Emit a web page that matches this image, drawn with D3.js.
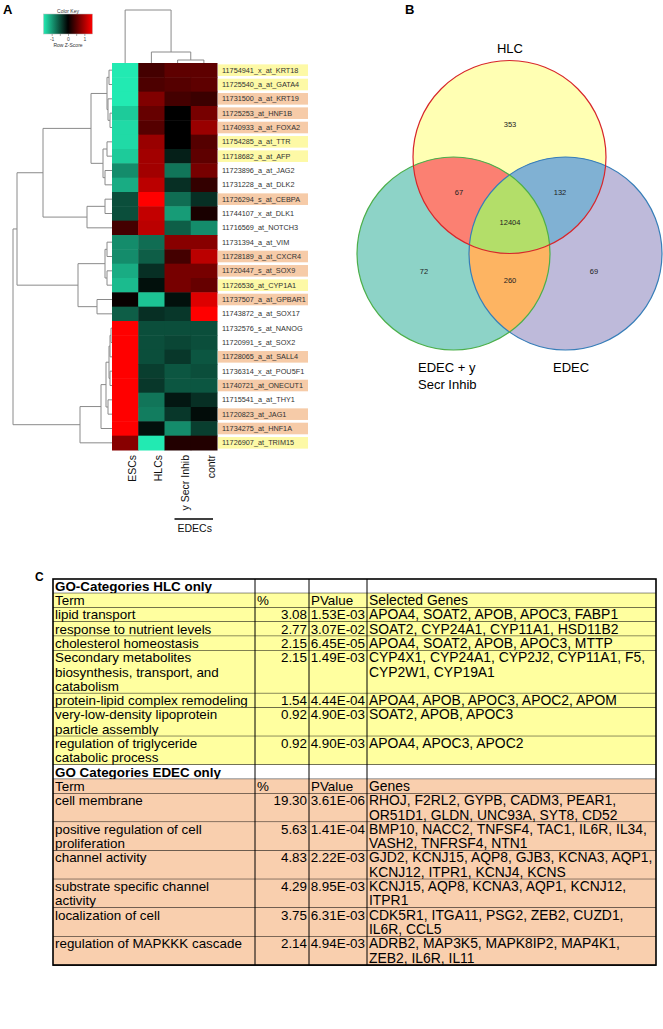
<!DOCTYPE html>
<html><head><meta charset="utf-8">
<script src="https://cdn.jsdelivr.net/npm/d3@7/dist/d3.min.js"></script>
<style>body{margin:0;background:#fff}svg{display:block;font-family:"Liberation Sans",Arial,sans-serif}</style>
</head><body>
<svg id="c" width="663" height="1029"></svg>
<script>
// ---------------- DATA ----------------
const columns = ["ESCs", "HLCs", "y Secr Inhib", "contr"];
const probes = ["11754941_x_at_KRT18","11725540_a_at_GATA4","11731500_a_at_KRT19","11725253_at_HNF1B","11740933_a_at_FOXA2","11754285_a_at_TTR","11718682_a_at_AFP","11723896_a_at_JAG2","11731228_a_at_DLK2","11726294_s_at_CEBPA","11744107_x_at_DLK1","11716569_at_NOTCH3","11731394_a_at_VIM","11728189_a_at_CXCR4","11720447_s_at_SOX9","11726536_at_CYP1A1","11737507_a_at_GPBAR1","11743872_a_at_SOX17","11732576_s_at_NANOG","11720991_s_at_SOX2","11728065_a_at_SALL4","11736314_x_at_POU5F1","11740721_at_ONECUT1","11715541_a_at_THY1","11720823_at_JAG1","11734275_at_HNF1A","11726907_at_TRIM15"];
const probeHighlight = ["y","y","o","o","o","y","y","","","o","","","","o","o","y","o","","","","o","","o","","o","o","y"];
// row z-scores: ESCs, HLCs, y Secr Inhib, contr
const zScores = [
 [-1.5, 0.40, 0.55, 0.55],[-1.5, 0.45, 0.50, 0.55],[-1.5, 0.75, 0.40, 0.35],[-1.3, 0.60, 0.00, 0.70],
 [-1.4, 0.50, 0.00, 0.90],[-1.4, 0.90, 0.00, 0.50],[-1.3, 0.95,-0.20, 0.55],[-0.9, 0.95,-0.75, 0.70],
 [-1.1, 1.10,-0.30, 0.30],[-0.5, 1.50,-0.70,-0.30],[-0.5, 1.15,-1.00, 0.15],[ 0.4, 1.10,-0.60,-0.90],
 [-0.9,-0.70, 0.80, 0.80],[-0.9,-0.60, 0.40, 1.10],[-1.1,-0.30, 0.70, 0.70],[-1.2,-0.10, 0.70, 0.60],
 [ 0.05,-1.25,-0.10, 1.30],[-0.6,-0.30,-0.35, 1.50],[ 1.5,-0.50,-0.50,-0.50],[ 1.5,-0.50,-0.45,-0.50],
 [ 1.5,-0.50,-0.35,-0.55],[ 1.5,-0.40,-0.55,-0.50],[ 1.5,-0.35,-0.55,-0.55],[ 1.5,-0.75,-0.15,-0.30],
 [ 1.5,-0.80,-0.35,-0.08],[ 1.5,-0.10,-0.90,-0.40],[ 0.8,-1.50, 0.20, 0.20]];
// dendrograms: node heights (merge distance)
const rowTree = {h:99,c:[
  {h:95,c:[
    {h:69,c:[
      {h:21,c:[
        {h:5,c:[{h:3,c:["KRT18","GATA4"]},{h:4,c:["KRT19",{h:2,c:["HNF1B","FOXA2"]}]}]},
        {h:9,c:[{h:5,c:["TTR","AFP"]},{h:7,c:["JAG2","DLK2"]}]}]},
      {h:25,c:[{h:7,c:["CEBPA","DLK1"]},"NOTCH3"]}]},
    {h:34,c:[
      {h:7,c:[{h:5,c:["VIM","CXCR4"]},{h:5,c:["SOX9","CYP1A1"]}]},
      {h:15,c:["GPBAR1","SOX17"]}]}]},
  {h:32,c:[
    {h:11,c:[
      {h:6,c:[
        {h:3,c:[{h:2,c:[{h:1,c:["NANOG","SOX2"]},"SALL4"]},{h:2,c:["POU5F1","ONECUT1"]}]},
        {h:4,c:["THY1","JAG1"]}]},
      "HNF1A"]},
    "TRIM15"]}]};
const colTree = {h:53,c:["ESCs",{h:11,c:["HLCs",{h:3,c:["y Secr Inhib","contr"]}]}]};
const keyTicks = [-1, 0, 1];

const vennLabels = ["HLC", "EDEC + y\nSecr Inhib", "EDEC"];
const vennFills = ["#ffffb3", "#8dd3c7", "#bebada"];
const vennStrokes = ["#d7262b", "#4daf4a", "#377eb8"];
const vennPairFills = {"01":"#fb8072","02":"#80b1d3","12":"#fdb462","012":"#b3de69"};
const vennCounts = {"0":353,"1":72,"2":69,"01":67,"02":132,"12":260,"012":12404};

const hlcTitle = "GO-Categories HLC only";
const hlcHeader = ["Term","%","PValue","Selected Genes"];
const hlcTerms = ["lipid transport","response to nutrient levels","cholesterol homeostasis","Secondary metabolites\nbiosynthesis, transport, and\ncatabolism","protein-lipid complex remodeling","very-low-density lipoprotein\nparticle assembly","regulation of triglyceride\ncatabolic process"];
const hlcPct = ["3.08","2.77","2.15","2.15","1.54","0.92","0.92"];
const hlcP = ["1.53E-03","3.07E-02","6.45E-05","1.49E-03","4.44E-04","4.90E-03","4.90E-03"];
const hlcGenes = ["APOA4, SOAT2, APOB, APOC3, FABP1","SOAT2, CYP24A1, CYP11A1, HSD11B2","APOA4, SOAT2, APOB, APOC3, MTTP","CYP4X1, CYP24A1, CYP2J2, CYP11A1, F5,\nCYP2W1, CYP19A1","APOA4, APOB, APOC3, APOC2, APOM","SOAT2, APOB, APOC3","APOA4, APOC3, APOC2"];
const edecTitle = "GO Categories EDEC only";
const edecHeader = ["Term","%","PValue","Genes"];
const edecTerms = ["cell membrane","positive regulation of cell\nproliferation","channel activity","substrate specific channel\nactivity","localization of cell","regulation of MAPKKK cascade"];
const edecPct = ["19.30","5.63","4.83","4.29","3.75","2.14"];
const edecP = ["3.61E-06","1.41E-04","2.22E-03","8.95E-03","6.31E-03","4.94E-03"];
const edecGenes = ["RHOJ, F2RL2, GYPB, CADM3, PEAR1,\nOR51D1, GLDN, UNC93A, SYT8, CD52","BMP10, NACC2, TNFSF4, TAC1, IL6R, IL34,\nVASH2, TNFRSF4, NTN1","GJD2, KCNJ15, AQP8, GJB3, KCNA3, AQP1,\nKCNJ12, ITPR1, KCNJ4, KCNS","KCNJ15, AQP8, KCNA3, AQP1, KCNJ12,\nITPR1","CDK5R1, ITGA11, PSG2, ZEB2, CUZD1,\nIL6R, CCL5","ADRB2, MAP3K5, MAPK8IP2, MAP4K1,\nZEB2, IL6R, IL11"];

// ---------------- DRAW ----------------
const svg = d3.select("#c");
svg.append("rect").attr("width",663).attr("height",1029).attr("fill","#fff");

// Panel labels
svg.append("text").attr("x",3).attr("y",14).attr("font-size",13).attr("font-weight","bold").text("A");
svg.append("text").attr("x",405).attr("y",14).attr("font-size",13).attr("font-weight","bold").text("B");
svg.append("text").attr("x",35).attr("y",581).attr("font-size",12).attr("font-weight","bold").text("C");

// --- Heatmap ---
const genes = probes.map(p => p.split("_").pop());
const y = d3.scaleBand().domain(genes).range([63, 450]);
const x = d3.scaleBand().domain(columns).range([112, 217]);
const color = d3.scaleLinear().domain([-1.5, 0, 1.5]).range(["#22eab2", "#000000", "#ff0000"]).clamp(true);

const hm = svg.append("g");
zScores.forEach((row, i) => {
  hm.selectAll(null).data(row).join("rect")
    .attr("x", (d, j) => x(columns[j])).attr("y", y(genes[i]))
    .attr("width", x.bandwidth() + 0.5).attr("height", y.bandwidth() + 0.5)
    .attr("fill", d => color(d));
});

// row labels
const hlFill = {y:"#fdf9a6", o:"#f6cba8"};
const lab = svg.append("g");
probes.forEach((p, i) => {
  const yc = y(genes[i]) + y.bandwidth()/2;
  if (probeHighlight[i]) lab.append("rect").attr("x",218).attr("y",yc-5.8).attr("width",90).attr("height",11.6).attr("fill",hlFill[probeHighlight[i]]);
  lab.append("text").attr("x",222).attr("y",yc+2.6).attr("font-size",7.3).attr("fill","#333").text(p);
});

// column labels
columns.forEach(c => {
  const cx = x(c) + x.bandwidth()/2 + 11;
  svg.append("text").attr("transform",`translate(${cx},455) rotate(-90)`).attr("text-anchor","end")
    .attr("font-size",10.5).attr("fill","#111").text(c);
});
const edX = d3.extent(["y Secr Inhib","contr"].map(c => x(c)));
svg.append("line").attr("x1",edX[0]+10).attr("x2",edX[1]+x.bandwidth()-4).attr("y1",519).attr("y2",519).attr("stroke","#000").attr("stroke-width",1.6);
svg.append("text").attr("x",(edX[0]+edX[1]+x.bandwidth())/2+4).attr("y",532).attr("text-anchor","middle").attr("font-size",10.5).attr("fill","#111").text("EDECs");

// dendrograms
function toHier(n){ return typeof n === "string" ? {name:n, h:0} : {h:n.h, children:n.c.map(toHier)}; }
const dStroke = "#8a8a8a";
// row dendrogram
const rRoot = d3.hierarchy(toHier(rowTree));
const hx = d3.scaleLinear().domain([0, 99]).range([112, 13]);
rRoot.eachAfter(n => { n.py = n.children ? (n.children[0].py + n.children[n.children.length-1].py)/2 : y(n.data.name) + y.bandwidth()/2; });
const rd = svg.append("g").attr("stroke",dStroke).attr("fill","none").attr("stroke-width",1);
rRoot.each(n => {
  if (!n.children) return;
  const xn = hx(n.data.h);
  rd.append("line").attr("x1",xn).attr("x2",xn).attr("y1",n.children[0].py).attr("y2",n.children[n.children.length-1].py);
  n.children.forEach(ch => rd.append("line").attr("x1",xn).attr("x2",hx(ch.data.h)).attr("y1",ch.py).attr("y2",ch.py));
});
// column dendrogram
const cRoot = d3.hierarchy(toHier(colTree));
const hy = d3.scaleLinear().domain([0, 53]).range([63, 10]);
cRoot.eachAfter(n => { n.px = n.children ? (n.children[0].px + n.children[n.children.length-1].px)/2 : x(n.data.name) + x.bandwidth()/2; });
cRoot.each(n => {
  if (!n.children) return;
  const yn = hy(n.data.h);
  rd.append("line").attr("y1",yn).attr("y2",yn).attr("x1",n.children[0].px).attr("x2",n.children[n.children.length-1].px);
  n.children.forEach(ch => rd.append("line").attr("y1",yn).attr("y2",hy(ch.data.h)).attr("x1",ch.px).attr("x2",ch.px));
});

// color key
const kx = d3.scaleLinear().domain([-1.5, 1.5]).range([43.5, 92.5]);
const grad = svg.append("defs").append("linearGradient").attr("id","kg");
d3.range(-1.5, 1.51, 0.25).forEach(v => grad.append("stop").attr("offset",(v+1.5)/3).attr("stop-color",color(v)));
svg.append("rect").attr("x",kx(-1.5)).attr("y",14).attr("width",kx(1.5)-kx(-1.5)).attr("height",20).attr("fill","url(#kg)").attr("stroke","#bbb").attr("stroke-width",0.5);
svg.append("text").attr("x",(kx(-1.5)+kx(1.5))/2).attr("y",13).attr("text-anchor","middle").attr("font-size",5).attr("fill","#333").text("Color Key");
const keyAxis = svg.append("g").attr("transform","translate(0,34)")
  .call(d3.axisBottom(kx).tickValues([-1,-0.5,0,0.5,1]).tickSize(2).tickFormat(d => keyTicks.includes(d) ? d : ""));
keyAxis.select(".domain").remove();
keyAxis.selectAll("line").attr("stroke","#555").attr("stroke-width",0.5);
keyAxis.selectAll("text").attr("font-size",5).attr("fill","#444").attr("dy","0.4em").attr("font-family","Liberation Sans, Arial");
svg.append("text").attr("x",(kx(-1.5)+kx(1.5))/2).attr("y",47).attr("text-anchor","middle").attr("font-size",5).attr("fill","#333").text("Row Z-Score");

// --- Venn ---
const R = 96.5;
const centers = [[509.5,157],[453.5,253.5],[565.5,253.5]];
const defs = svg.select("defs");
centers.forEach((c,i) => defs.append("clipPath").attr("id","cp"+i).append("circle").attr("cx",c[0]).attr("cy",c[1]).attr("r",R));
const vg = svg.append("g");
centers.forEach((c,i) => vg.append("circle").attr("cx",c[0]).attr("cy",c[1]).attr("r",R).attr("fill",vennFills[i]));
[["01",0,1],["02",0,2],["12",1,2]].forEach(([k,a,b]) => vg.append("g").attr("clip-path",`url(#cp${a})`)
  .append("circle").attr("cx",centers[b][0]).attr("cy",centers[b][1]).attr("r",R).attr("fill",vennPairFills[k]));
vg.append("g").attr("clip-path","url(#cp0)").append("g").attr("clip-path","url(#cp1)")
  .append("circle").attr("cx",centers[2][0]).attr("cy",centers[2][1]).attr("r",R).attr("fill",vennPairFills["012"]);
[2,1,0].forEach(i => vg.append("circle").attr("cx",centers[i][0]).attr("cy",centers[i][1]).attr("r",R).attr("fill","none").attr("stroke",vennStrokes[i]).attr("stroke-width",1.2));
const countPos = {"0":[510,124],"1":[424,271],"2":[594,271],"01":[459,192],"02":[560,192],"12":[510,280],"012":[510,222]};
Object.keys(vennCounts).forEach(k => vg.append("text").attr("x",countPos[k][0]).attr("y",countPos[k][1]+2.5).attr("text-anchor","middle").attr("font-size",7.5).attr("fill","#222").text(vennCounts[k]));
vg.append("text").attr("x",510).attr("y",53).attr("text-anchor","middle").attr("font-size",13).text(vennLabels[0]);
vennLabels[1].split("\n").forEach((t,i) => vg.append("text").attr("x",418).attr("y",372+i*16.5).attr("font-size",13).text(t));
vg.append("text").attr("x",553).attr("y",372).attr("font-size",13).text(vennLabels[2]);

// --- Table ---
const LH = 14.3, FS = 13.4, FSG = 13.9;
const tx = [53, 255, 309, 367, 656];
let ty = 579;
const tg = svg.append("g");
function addRow(cells, fill, bold, aligns){
  const nLines = d3.max(cells, c => String(c).split("\n").length);
  const h = nLines * LH;
  tg.append("rect").attr("x",tx[0]).attr("y",ty).attr("width",tx[4]-tx[0]).attr("height",h).attr("fill",fill);
  cells.forEach((c, j) => {
    String(c).split("\n").forEach((t, k) => {
      const right = aligns[j] === "r";
      tg.append("text").attr("x", right ? tx[j+1]-2 : tx[j]+2).attr("y", ty + k*LH + LH/2 + 4.6)
        .attr("text-anchor", right ? "end" : "start").attr("font-size", j === 3 ? FSG : FS)
        .attr("font-weight",bold?"bold":"normal").attr("fill","#000").text(t);
    });
  });
  tg.append("line").attr("x1",tx[0]).attr("x2",tx[4]).attr("y1",ty+h).attr("y2",ty+h).attr("stroke","#000").attr("stroke-width",1);
  ty += h;
}
const yel = "#ffff9f", org = "#f9cfae";
addRow([hlcTitle,"","",""], "#fff", true, "llll");
addRow(hlcHeader, yel, false, "llll");
hlcTerms.forEach((t,i) => addRow([t, hlcPct[i], hlcP[i], hlcGenes[i]], yel, false, "lrrl"));
addRow([edecTitle,"","",""], "#fff", true, "llll");
addRow(edecHeader, org, false, "llll");
edecTerms.forEach((t,i) => addRow([t, edecPct[i], edecP[i], edecGenes[i]], org, false, "lrrl"));
tx.slice(1,4).forEach(v => tg.append("line").attr("x1",v).attr("x2",v).attr("y1",579).attr("y2",ty).attr("stroke","#000").attr("stroke-width",1));
tg.append("rect").attr("x",tx[0]).attr("y",579).attr("width",tx[4]-tx[0]).attr("height",ty-579).attr("fill","none").attr("stroke","#000").attr("stroke-width",1.6);
</script>
</body></html>
